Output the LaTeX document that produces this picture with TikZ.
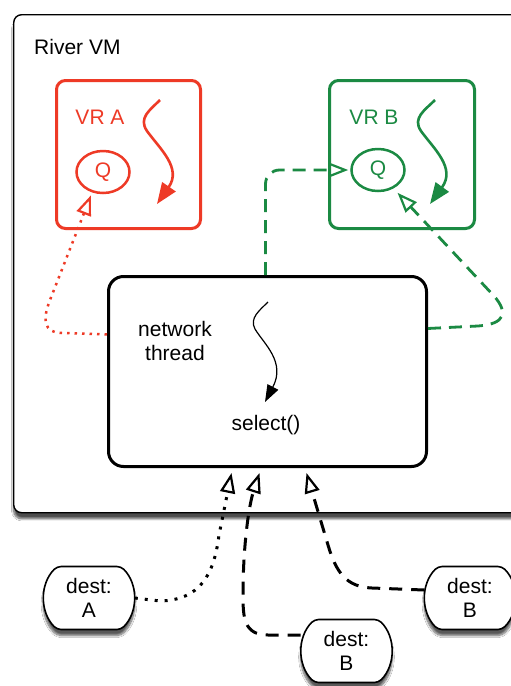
\documentclass[tikz,border=0pt]{standalone}
\usepackage{fontspec}
\setmainfont{Liberation Sans}
\usetikzlibrary{arrows.meta,shapes.misc,shapes.geometric,shadows.blur}
\definecolor{vrred}{RGB}{238,58,38}
\definecolor{vrgreen}{RGB}{27,138,67}
\begin{document}
\begin{tikzpicture}[x=1pt,y=-1pt,
  lbl/.style={inner sep=0pt,font=\fontsize{21}{24}\selectfont},
  vmbox/.style={draw=black,line width=1.4pt,rounded corners=8pt,fill=white,
    blur shadow={shadow xshift=0pt,shadow yshift=-6pt,shadow blur steps=10,shadow opacity=70}},
  vrbox/.style={line width=3pt,rounded corners=9pt,inner sep=0pt},
  qnode/.style={ellipse,line width=2.5pt,minimum width=53pt,minimum height=42pt,inner sep=0pt,
    font=\fontsize{21}{24}\selectfont},
  netbox/.style={draw=black,line width=3pt,rounded corners=15pt,inner sep=0pt},
  destnode/.style={rounded rectangle,rounded rectangle arc length=90,rounded corners=4pt,
    draw=black,line width=1.6pt,
    fill=white,minimum width=94pt,minimum height=63pt,inner sep=2pt,align=center,
    font=\fontsize{21}{24}\selectfont,
    blur shadow={shadow xshift=0pt,shadow yshift=-6pt,shadow blur steps=8,shadow opacity=65}},
  bigsq/.style={line width=2.6pt,-{Triangle[length=21pt,width=16pt]}},
  smallsq/.style={line width=1.2pt,-{Triangle[length=17pt,width=12pt]}},
  openarr/.style={-{Triangle[open,length=20pt,width=15pt,line width=2.2pt]}},
  gdash/.style={draw=vrgreen,line width=2.8pt,dash pattern=on 13pt off 8pt,openarr},
  rdot/.style={draw=vrred,line width=2.5pt,dash pattern=on 2.5pt off 5pt,openarr},
  kdot/.style={draw=black,line width=3pt,dash pattern=on 3pt off 7pt,openarr},
  kdash/.style={draw=black,line width=3pt,dash pattern=on 13pt off 9pt,openarr}
]
\useasboundingbox (0,0) rectangle (511,686);
\clip (0,0) rectangle (511,686);
\fill[white] (0,0) rectangle (511,686);

% outer VM box
\node[vmbox,anchor=north west,minimum width=520pt,minimum height=498pt] (vm) at (13,14) {};
\node[lbl,anchor=base west] (vmlabel) at (34,54) {River VM};

% VR A
\node[vrbox,draw=vrred,anchor=north west,minimum width=144pt,minimum height=148pt] (vra) at (55,79) {};
\node[lbl,text=vrred] (vralabel) at (100,117) {VR A};
\node[qnode,draw=vrred,text=vrred] (qa) at (103,172) {Q};
\draw[bigsq,vrred] (160,100) .. controls (150,110) and (138,118) .. (147,131)
  .. controls (160,149) and (182,168) .. (157,204);

% VR B
\node[vrbox,draw=vrgreen,anchor=north west,minimum width=145pt,minimum height=148pt] (vrb) at (328,79) {};
\node[lbl,text=vrgreen] (vrblabel) at (374,117) {VR B};
\node[qnode,draw=vrgreen,text=vrgreen] (qb) at (378,170) {Q};
\draw[bigsq,vrgreen] (435,100) .. controls (425,110) and (412,118) .. (421,131)
  .. controls (434,149) and (456,168) .. (430,204);

% network thread box
\node[netbox,anchor=north west,minimum width=318pt,minimum height=190pt] (net) at (107,275) {};
\node[lbl,align=center] (nettext) at (175,341) {network\\thread};
\draw[smallsq,black] (268,302) .. controls (260,310) and (249,318) .. (255,329)
  .. controls (264,344) and (286,362) .. (265,402);
\node[lbl] (sel) at (266,425) {select()};

% connectors from network thread to the VRs
\draw[rdot,shorten >=3pt] (net.167) -- (62,333) .. controls (44,333) and (42,320) .. (50,300) -- (qa.-118);
\draw[gdash,rounded corners=14pt,shorten >=2pt] ([xshift=-2pt]net.north) |- (qb.west);
\draw[gdash,shorten >=6pt] (net.15) -- (478,326) .. controls (506,324) and (508,312) .. (494,296) -- (qb.-50);

% destination messages
\node[destnode] (desta) at (89,598) {dest:\\A};
\node[destnode] (destbm) at (346.5,651) {dest:\\B};
\node[destnode] (destbr) at (470,598) {dest:\\B};

\coordinate (ta) at ([shift={(-36,5)}]net.south);
\coordinate (tbm) at ([shift={(-8,5)}]net.south);
\coordinate (tbr) at ([shift={(39,5)}]net.south);

\draw[kdot] (desta.east) -- (160,601) .. controls (200,600) and (214,575) .. (219,535) -- (ta);
\draw[kdash] ([yshift=16pt]destbm.west) -- (268,635) .. controls (244,635) and (243,618) .. (243,595)
  .. controls (243,545) and (249,505) .. (tbm);
\draw[kdash] ([yshift=8pt]destbr.west) -- (372,588) .. controls (346,587) and (336,572) .. (328,545) -- (tbr);
\end{tikzpicture}
\end{document}
